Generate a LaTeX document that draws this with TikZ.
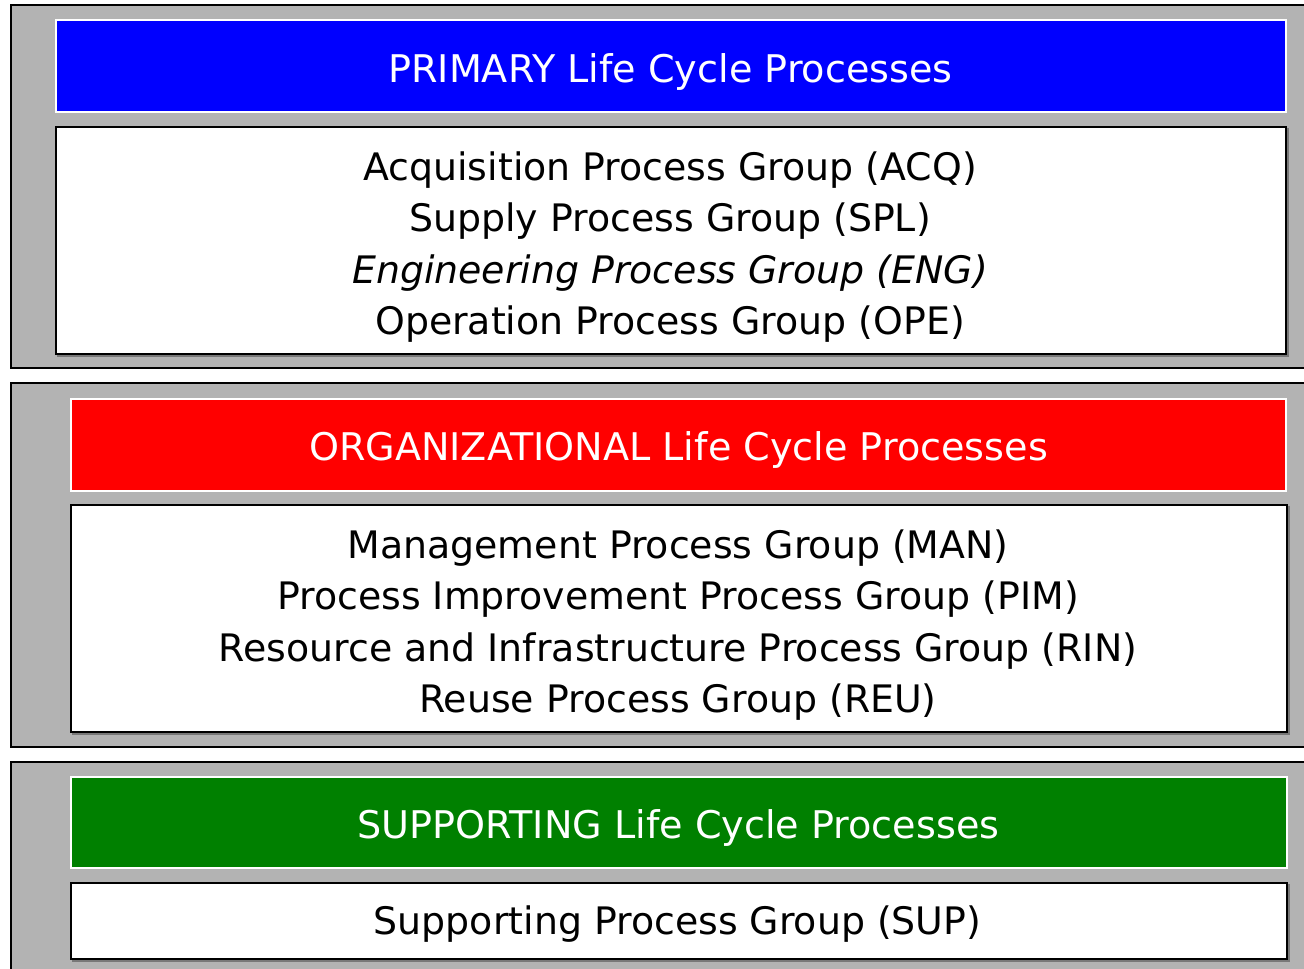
\documentclass[tikz,border=0pt]{standalone}
\usepackage{fontspec}
\setmainfont{DejaVu Sans}
\definecolor{panelgray}{RGB}{179,179,179}
\definecolor{shadegray}{RGB}{120,120,120}
\definecolor{primblue}{RGB}{0,0,255}
\definecolor{orgred}{RGB}{255,0,0}
\definecolor{supgreen}{RGB}{0,128,0}
\tikzset{
  panel/.style={draw=black, line width=2pt, fill=panelgray},
  headbar/.style={draw=white, line width=1.5pt},
  groupbox/.style={draw=black, line width=1.8pt, fill=white},
  boxshade/.style={draw=shadegray, line width=1.8pt},
  headtext/.style={text=white, font=\fontsize{28.6}{34}\selectfont, inner sep=0.75pt},
  grouptext/.style={font=\fontsize{28.4}{38.5}\selectfont, align=center, inner sep=0.75pt},
}
\begin{document}
\begin{tikzpicture}[x=0.75pt,y=0.75pt,yscale=-1,xscale=1]
        \useasboundingbox (0,0) rectangle (1304,969);
        \clip (0,0) rectangle (1304,969);
        \fill [white] (0,0) rectangle (1304,969);

        %Shape: Panel 1 [primary]
        \draw [panel] (11,5) rectangle (1312,368);
        \draw [headbar, fill=primblue] (56,20) rectangle (1286,112);
        \draw [boxshade] (58,129) rectangle (1288,356);
        \draw [groupbox] (56,127) rectangle (1286,354);

        %Shape: Panel 2 [organizational]
        \draw [panel] (11,383) rectangle (1312,747);
        \draw [headbar, fill=orgred] (71,399) rectangle (1286,491);
        \draw [boxshade] (73,507) rectangle (1289,734);
        \draw [groupbox] (71,505) rectangle (1287,732);

        %Shape: Panel 3 [supporting]
        \draw [panel] (11,762) rectangle (1312,980);
        \draw [headbar, fill=supgreen] (71,777) rectangle (1287,868);
        \draw [boxshade] (73,885) rectangle (1289,961);
        \draw [groupbox] (71,883) rectangle (1287,959);

        % Text Node
        \node [headtext] (primhead) at (670.5,72) {PRIMARY Life Cycle Processes};
        % Text Node
        \node [grouptext] (primgroups) at (670,247) {Acquisition Process Group (ACQ)\\
          Supply Process Group (SPL)\\
          \textit{Engineering Process Group (ENG)}\\
          Operation Process Group (OPE)};
        % Text Node
        \node [headtext] (orghead) at (678.5,450) {ORGANIZATIONAL Life Cycle Processes};
        % Text Node
        \node [grouptext] (orggroups) at (678,625) {Management Process Group (MAN)\\
          Process Improvement Process Group (PIM)\\
          Resource and Infrastructure Process Group (RIN)\\
          Reuse Process Group (REU)};
        % Text Node
        \node [headtext] (suphead) at (678.5,828) {SUPPORTING Life Cycle Processes};
        % Text Node
        \node [grouptext] (supgroups) at (677.5,924) {Supporting Process Group (SUP)};
    \end{tikzpicture}
\end{document}
